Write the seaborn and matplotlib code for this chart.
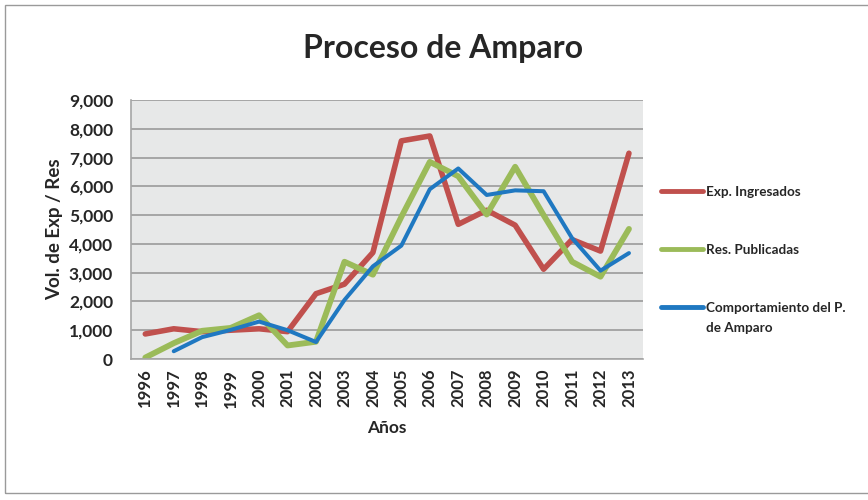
import numpy as np
import matplotlib.pyplot as plt
import seaborn as sns
import pandas as pd
from matplotlib.patches import Rectangle

# Years and series
years = list(range(1996, 2014))
exp_ingresados = [870, 1050, 950, 1000, 1050, 950, 2270, 2600, 3700, 7580, 7750, 4680,
                  5170, 4650, 3120, 4150, 3750, 7150]
res_publicadas = [50, 550, 980, 1080, 1520, 470, 600, 3380, 2930, 4940, 6850, 6350,
                  5020, 6680, 5000, 3380, 2860, 4520]
comportamiento = [np.nan, 270, 760, 1010, 1300, 1000, 590, 2050, 3220, 3940, 5900, 6620,
                  5700, 5860, 5830, 4200, 3070, 3680]

series_names = ['Exp. Ingresados', 'Res. Publicadas', 'Comportamiento del P.']
colors = ['#C0504D', '#9BBB59', '#1F78C1']
widths = [4.0, 4.2, 2.9]

df = pd.DataFrame({'Año': years,
                   series_names[0]: exp_ingresados,
                   series_names[1]: res_publicadas,
                   series_names[2]: comportamiento})
df_long = df.melt(id_vars='Año', var_name='Serie', value_name='Valor').dropna()

sns.set_style('white')
plt.rcParams['font.family'] = ['Lato', 'DejaVu Sans']

fig = plt.figure(figsize=(8.68, 5.0), dpi=100)
ax = fig.add_axes([0.151, 0.282, 0.59, 0.518])

# Outer chart border
fig.patches.append(Rectangle((0.006, 0.015), 1.2, 0.975, transform=fig.transFigure,
                             fill=False, edgecolor='#9a9a9a', linewidth=1.0))

for name, col, lw in zip(series_names, colors, widths):
    sub = df_long[df_long['Serie'] == name]
    sns.lineplot(data=sub, x='Año', y='Valor', color=col, linewidth=lw,
                 label=name, ax=ax, solid_capstyle='round')

ax.set_facecolor('#E7E8E8')
ax.set_xlim(1995.5, 2013.5)
ax.set_ylim(0, 9000)
ax.set_yticks(range(0, 9001, 1000))
ax.set_yticklabels([f'{v:,}' for v in range(0, 9001, 1000)], fontsize=12.5, fontweight='bold')
ax.set_xticks(years)
ax.set_xticklabels([str(y) for y in years], rotation=90, fontsize=12, fontweight='bold')
ax.yaxis.grid(True, color='#A6A6A6', linewidth=1.4)
ax.set_axisbelow(True)
ax.tick_params(axis='y', length=4, color='#A6A6A6', width=1, pad=9)
ax.tick_params(axis='x', length=0, pad=7)

for side in ['top', 'right']:
    ax.spines[side].set_visible(False)
for side in ['left', 'bottom']:
    ax.spines[side].set_color('#A6A6A6')
    ax.spines[side].set_linewidth(1.2)

ax.set_xlabel('Años', fontsize=12.5, fontweight='bold', labelpad=9)
ax.set_ylabel('Vol. de Exp / Res', fontsize=13.5, fontweight='bold', labelpad=4)
fig.text(0.51, 0.903, 'Proceso de Amparo', ha='center', va='center',
         fontsize=23, fontweight='bold')

leg = ax.legend(loc='upper left', bbox_to_anchor=(1.012, 0.715), frameon=False,
                handlelength=3.1, handletextpad=0.2, labelspacing=3.4,
                prop={'weight': 'bold', 'size': 9.7})
for line in leg.get_lines():
    line.set_linewidth(3.5)

# second line of the last legend label, placed under the first line
fig.canvas.draw()
bb = leg.get_texts()[2].get_window_extent()
fig.text(bb.x0 / fig.bbox.width, (bb.y0 - 8) / fig.bbox.height, 'de Amparo',
         ha='left', va='top', fontsize=9.7, fontweight='bold')

plt.savefig('out.png', dpi=100)
